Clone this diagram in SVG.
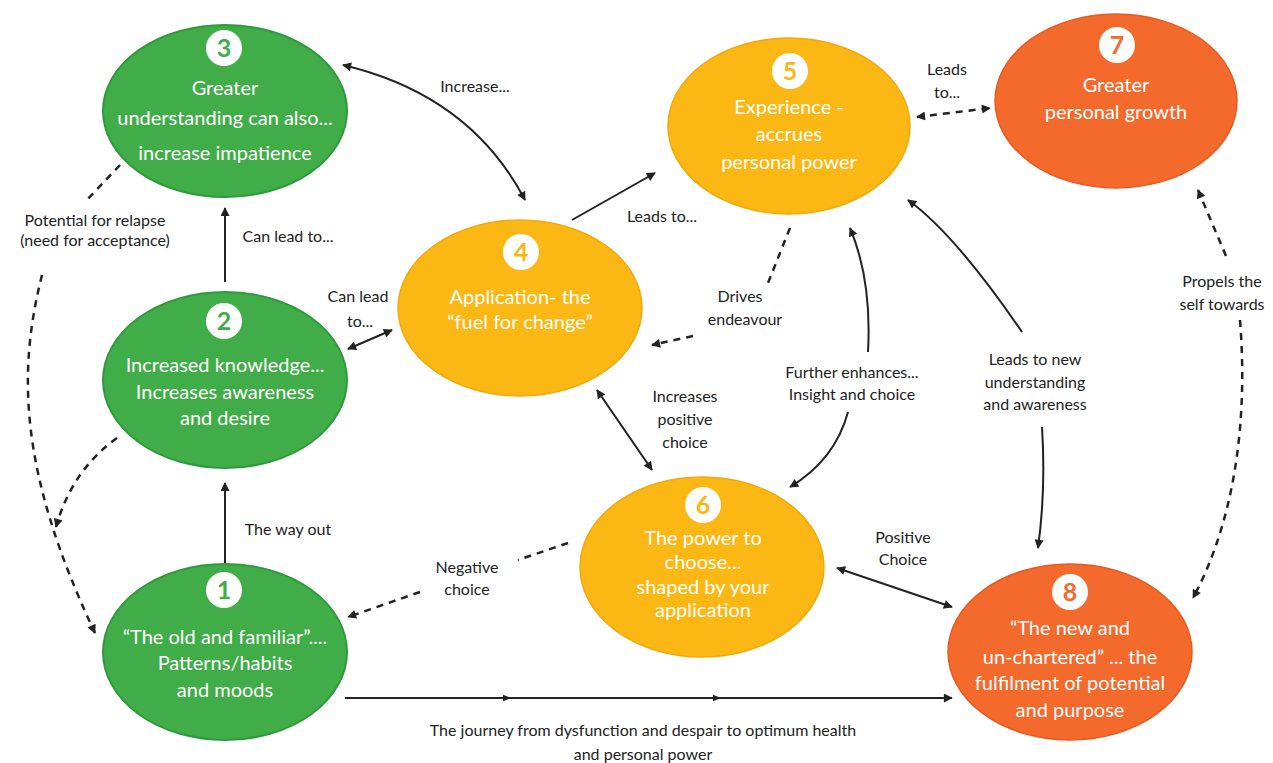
<svg xmlns="http://www.w3.org/2000/svg" width="1273" height="763" viewBox="0 0 1273 763">
<style>
.g{fill:#40ad48;stroke:#2f9a3c;stroke-width:2}
.y{fill:#fbb713;stroke:#f2a90c;stroke-width:1.5}
.o{fill:#f36a2c;stroke:#e85a1f;stroke-width:1.5}
.badge{fill:#fff}
.num{font-family:Lato,"Liberation Sans",sans-serif;font-weight:700;font-size:25px;text-anchor:middle}
.ng{fill:#40ad48}.ny{fill:#fbb713}.no{fill:#f36a2c}
.nt{font-family:Lato,"Liberation Sans",sans-serif;font-size:20px;fill:#fff;text-anchor:middle}
.lb{font-family:Lato,"Liberation Sans",sans-serif;font-size:16px;fill:#222;text-anchor:middle}
.c{fill:none;stroke:#222;stroke-width:2}
.d{fill:none;stroke:#222;stroke-width:2.5;stroke-dasharray:7 6}
</style>
<defs>
<marker id="ah" viewBox="0 0 10 10" refX="9" refY="5" markerWidth="10" markerHeight="9" markerUnits="userSpaceOnUse" orient="auto-start-reverse">
<path d="M0,0 L10,5 L0,10 Z" fill="#222"/>
</marker>
<marker id="sm" viewBox="0 0 10 10" refX="5" refY="5" markerWidth="8" markerHeight="8" markerUnits="userSpaceOnUse" orient="auto">
<path d="M0,1 L10,5 L0,9 Z" fill="#222"/>
</marker>
</defs>
<rect width="1273" height="763" fill="#fff"/>
<g id="connectors">
<path class="c" d="M343,65 Q470,95 525,200" marker-start="url(#ah)" marker-end="url(#ah)"/>
<path class="c" d="M572,220 L655,173" marker-end="url(#ah)"/>
<path class="c" d="M225,282 L225,208" marker-end="url(#ah)"/>
<path class="c" d="M225,564 L225,483" marker-end="url(#ah)"/>
<path class="c" d="M348,349 L392,330" marker-start="url(#ah)" marker-end="url(#ah)"/>
<path class="d" d="M790,228 L766,288"/>
<path class="d" d="M693,336 L652,345" marker-end="url(#ah)"/>
<path class="c" d="M868,352 Q872,280 850,228" marker-end="url(#ah)"/>
<path class="c" d="M848,412 Q835,460 790,487" marker-end="url(#ah)"/>
<path class="c" d="M1022,332 Q955,234 908,200" marker-end="url(#ah)"/>
<path class="c" d="M1042,427 Q1046,490 1038,548" marker-end="url(#ah)"/>
<path class="c" d="M597,390 L652,470" marker-start="url(#ah)" marker-end="url(#ah)"/>
<path class="c" d="M837,568 L952,607" marker-start="url(#ah)" marker-end="url(#ah)"/>
<path class="d" d="M917,117 L990,108" marker-start="url(#ah)" marker-end="url(#ah)"/>
<path class="d" d="M1226,256 L1198,190" marker-end="url(#ah)"/>
<path class="d" d="M1240,320 C1248,420 1235,520 1193,598" marker-end="url(#ah)"/>
<path class="d" d="M568,543 L518,560"/>
<path class="d" d="M420,592 L348,617" marker-end="url(#ah)"/>
<path class="d" d="M120,165 L85,202"/>
<path class="d" d="M42,275 C18,370 18,470 95,633" marker-end="url(#ah)"/>
<path class="d" d="M117,438 Q72,470 56,527" marker-end="url(#ah)"/>
<path class="c" d="M345,698 L507,698 L717,698 L952,698" marker-mid="url(#sm)" marker-end="url(#ah)"/>
</g>
<g id="labels">
<text class="lb" x="475" y="92">Increase...</text>
<text class="lb" x="662" y="222">Leads to...</text>
<text class="lb" x="288" y="242">Can lead to...</text>
<text class="lb" x="288" y="535">The way out</text>
<text class="lb" x="358" y="302">Can lead</text>
<text class="lb" x="360" y="327">to...</text>
<text class="lb" x="95" y="226">Potential for relapse</text>
<text class="lb" x="95" y="246">(need for acceptance)</text>
<text class="lb" x="740" y="302">Drives</text>
<text class="lb" x="745" y="325">endeavour</text>
<text class="lb" x="685" y="402">Increases</text>
<text class="lb" x="685" y="425">positive</text>
<text class="lb" x="685" y="448">choice</text>
<text class="lb" x="852" y="378">Further enhances...</text>
<text class="lb" x="852" y="400">Insight and choice</text>
<text class="lb" x="1035" y="365">Leads to new</text>
<text class="lb" x="1035" y="388">understanding</text>
<text class="lb" x="1035" y="410">and awareness</text>
<text class="lb" x="947" y="75">Leads</text>
<text class="lb" x="947" y="98">to...</text>
<text class="lb" x="1222" y="287">Propels the</text>
<text class="lb" x="1222" y="310">self towards</text>
<text class="lb" x="903" y="543">Positive</text>
<text class="lb" x="903" y="565">Choice</text>
<text class="lb" x="467" y="573">Negative</text>
<text class="lb" x="467" y="595">choice</text>
<text class="lb" x="643" y="736">The journey from dysfunction and despair to optimum health</text>
<text class="lb" x="643" y="760">and personal power</text>
</g>
<g id="node1">
<ellipse class="g" cx="225" cy="652" rx="122" ry="88"/>
<circle class="badge" cx="224" cy="590" r="18"/>
<text class="num ng" x="224" y="599">1</text>
<text class="nt" x="225" y="644">“The old and familiar”....</text>
<text class="nt" x="225" y="670">Patterns/habits</text>
<text class="nt" x="225" y="697">and moods</text>
</g>
<g id="node2">
<ellipse class="g" cx="225" cy="380" rx="122" ry="88"/>
<circle class="badge" cx="224" cy="321" r="18"/>
<text class="num ng" x="224" y="330">2</text>
<text class="nt" x="225" y="372">Increased knowledge...</text>
<text class="nt" x="225" y="399">Increases awareness</text>
<text class="nt" x="225" y="425">and desire</text>
</g>
<g id="node3">
<ellipse class="g" cx="225" cy="111" rx="122" ry="86"/>
<circle class="badge" cx="224" cy="48" r="18"/>
<text class="num ng" x="224" y="57">3</text>
<text class="nt" x="225" y="95">Greater</text>
<text class="nt" x="225" y="125">understanding can also...</text>
<text class="nt" x="225" y="160">increase impatience</text>
</g>
<g id="node4">
<ellipse class="y" cx="520" cy="308" rx="122" ry="88"/>
<circle class="badge" cx="521" cy="252" r="18"/>
<text class="num ny" x="521" y="261">4</text>
<text class="nt" x="520" y="304">Application- the</text>
<text class="nt" x="520" y="329">“fuel for change”</text>
</g>
<g id="node5">
<ellipse class="y" cx="789" cy="126" rx="121" ry="88"/>
<circle class="badge" cx="790" cy="71" r="18"/>
<text class="num ny" x="790" y="80">5</text>
<text class="nt" x="789" y="114">Experience -</text>
<text class="nt" x="789" y="141">accrues</text>
<text class="nt" x="789" y="169">personal power</text>
</g>
<g id="node6">
<ellipse class="y" cx="702" cy="567" rx="122" ry="90"/>
<circle class="badge" cx="703" cy="505" r="18"/>
<text class="num ny" x="703" y="514">6</text>
<text class="nt" x="703" y="545">The power to</text>
<text class="nt" x="703" y="569">choose...</text>
<text class="nt" x="703" y="594">shaped by your</text>
<text class="nt" x="703" y="617">application</text>
</g>
<g id="node7">
<ellipse class="o" cx="1116" cy="101" rx="121" ry="87"/>
<circle class="badge" cx="1117" cy="45" r="18"/>
<text class="num no" x="1117" y="54">7</text>
<text class="nt" x="1116" y="92">Greater</text>
<text class="nt" x="1116" y="119">personal growth</text>
</g>
<g id="node8">
<ellipse class="o" cx="1070" cy="652" rx="122" ry="88"/>
<circle class="badge" cx="1070" cy="592" r="18"/>
<text class="num no" x="1070" y="601">8</text>
<text class="nt" x="1070" y="635">“The new and</text>
<text class="nt" x="1070" y="664">un-chartered” ... the</text>
<text class="nt" x="1070" y="690">fulfilment of potential</text>
<text class="nt" x="1070" y="717">and purpose</text>
</g>
</svg>
